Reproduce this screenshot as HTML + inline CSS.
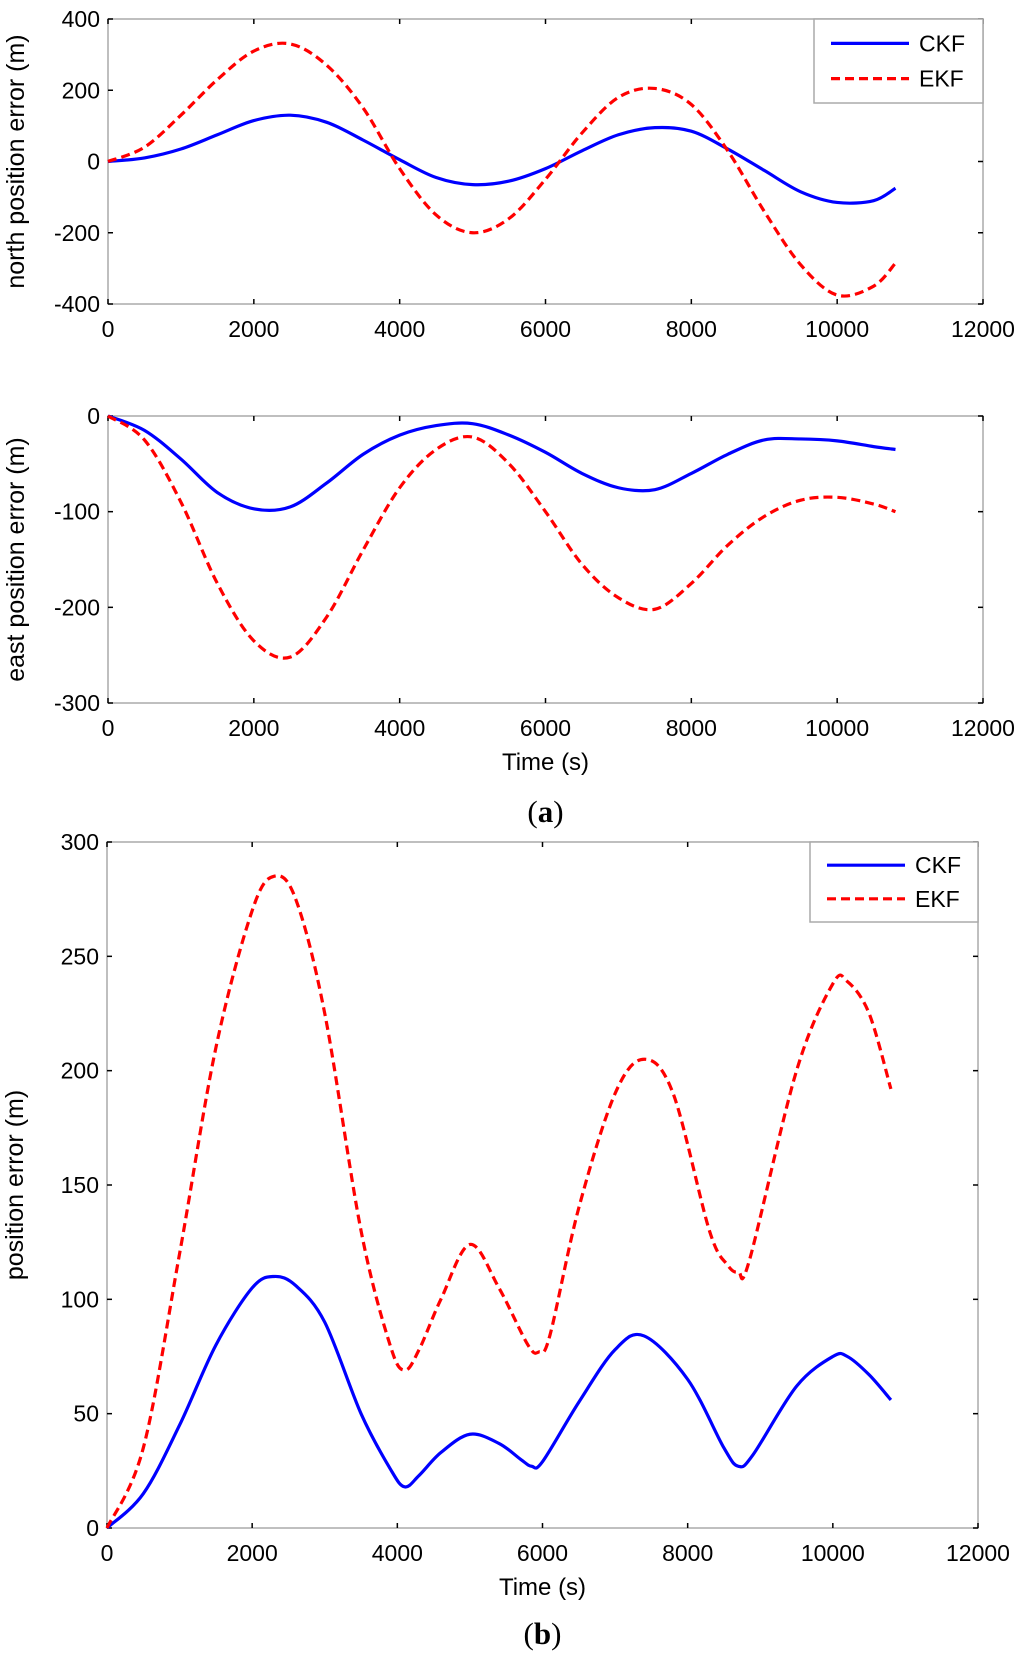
<!DOCTYPE html>
<html><head><meta charset="utf-8"><style>
body{margin:0;background:#fff}
svg{display:block}
text{font-family:"Liberation Sans",sans-serif;fill:#000}
</style></head><body>
<svg id="c" width="1024" height="1662" viewBox="0 0 1024 1662" xmlns="http://www.w3.org/2000/svg"></svg>
<script>
const xTicks=[0,2000,4000,6000,8000,10000,12000];
const tN=[0,500,1000,1500,2000,2500,3000,3500,4000,4500,5000,5500,6000,6500,7000,7500,8000,8500,9000,9500,10000,10500,10800];
const northCKF=[0,10,35,75,115,130,110,60,5,-45,-65,-55,-20,30,75,95,85,35,-25,-85,-115,-110,-75];
const northEKF=[0,40,130,230,310,330,270,150,-20,-150,-200,-160,-50,80,180,205,160,30,-140,-290,-375,-350,-285];
const eastCKF=[0,-15,-45,-80,-97,-95,-70,-40,-20,-10,-8,-20,-38,-60,-75,-77,-60,-40,-25,-24,-26,-32,-35];
const eastEKF=[0,-25,-90,-175,-235,-252,-210,-140,-75,-35,-22,-50,-100,-155,-190,-202,-175,-135,-105,-88,-85,-92,-100];
const tB=[0,500,1000,1500,2000,2300,2600,3000,3500,3900,4100,4300,4600,5000,5400,5700,5850,6000,6500,7000,7400,8000,8500,8700,8900,9500,10000,10200,10500,10800];
const posCKF=[0,15,45,80,105,110,106,90,50,26,18,23,33,41,37,30,27,29,55,78,84,65,35,27,32,62,75,75,67,56];
const tE=[0,500,1000,1500,2000,2300,2600,3000,3500,3900,4100,4300,4600,5000,5400,5800,5950,6100,6500,7000,7400,7800,8300,8550,8700,8850,9500,10000,10200,10500,10800];
const posEKF=[0,35,120,210,270,285,275,225,130,80,69,78,100,124,105,80,77,84,140,190,205,190,130,115,112,117,200,238,239,225,192];
const yN=[-400,-200,0,200,400], yE=[-300,-200,-100,0], yB=[0,50,100,150,200,250,300];
const NS="http://www.w3.org/2000/svg", svg=document.getElementById('c');
function el(tag,a,p){const e=document.createElementNS(NS,tag);for(const k in a)e.setAttribute(k,a[k]);(p||svg).appendChild(e);return e;}
function path(xs,ys,sx,sy){const P=xs.map((x,i)=>[sx(x),sy(ys[i])]);let d='M'+P[0][0]+','+P[0][1];
 for(let i=0;i<P.length-1;i++){const p0=P[i-1]||P[i],p1=P[i],p2=P[i+1],p3=P[i+2]||p2;
 d+=` C${p1[0]+(p2[0]-p0[0])/6},${p1[1]+(p2[1]-p0[1])/6} ${p2[0]-(p3[0]-p1[0])/6},${p2[1]-(p3[1]-p1[1])/6} ${p2[0]},${p2[1]}`;}return d;}
function chart(name,L,R,T,B,ymin,ymax,yt,ylabel,series,legend,xlabY,sub){
 const g=el('g',{});
 const sx=v=>L+(v-0)/12000*(R-L), sy=v=>B-(v-ymin)/(ymax-ymin)*(B-T);
 const fr=el('rect',{x:L,y:T,width:R-L,height:B-T,fill:'none',stroke:'#aaa','stroke-width':1.5},g);
 
 xTicks.forEach(v=>{const x=sx(v);el('line',{x1:x,y1:B,x2:x,y2:B-5,stroke:'#000','stroke-width':1.5},g);el('line',{x1:x,y1:T,x2:x,y2:T+5,stroke:'#000','stroke-width':1.5},g);
  const t=el('text',{x:x,y:B+33,'text-anchor':'middle','font-size':23},g);t.textContent=v;
  });
 yt.forEach(v=>{const y=sy(v);el('line',{x1:L,y1:y,x2:L+5,y2:y,stroke:'#000','stroke-width':1.5},g);el('line',{x1:R,y1:y,x2:R-5,y2:y,stroke:'#000','stroke-width':1.5},g);
  const t=el('text',{x:L-8,y:y+8,'text-anchor':'end','font-size':23},g);t.textContent=v;
  });
 const yl=el('text',{transform:`translate(${L-84},${(T+B)/2}) rotate(-90)`,'text-anchor':'middle','font-size':25},g);yl.textContent=ylabel;
 
 series.forEach(s=>{const p=el('path',{d:path(s.x,s.y,sx,sy),fill:'none',stroke:s.c,'stroke-width':3.2,'stroke-dasharray':s.dash?'9,5':'none'},g);
  });
 if(legend){const lg=el('g',{},g);
  el('rect',{x:legend[0],y:T,width:R-legend[0],height:legend[1],fill:'#fff',stroke:'#aaa','stroke-width':1.5},lg);
  const h=legend[1];
  [['CKF','#0000ff',false],['EKF','#ff0000',true]].forEach((e,i)=>{const y=T+h*(i===0?0.29:0.71);
   const ln=el('line',{x1:legend[0]+17,x2:legend[0]+95,y1:y,y2:y,stroke:e[1],'stroke-width':3.2,'stroke-dasharray':e[2]?'9,5':'none'},lg);
   
   const t=el('text',{x:legend[0]+105,y:y+8,'font-size':23},lg);t.textContent=e[0];
   });}
 if(xlabY){const t=el('text',{x:(L+R)/2,y:xlabY,'text-anchor':'middle','font-size':24},g);t.textContent='Time (s)';
  }
 if(sub){const t=el('text',{x:(L+R)/2,y:sub[1],'text-anchor':'middle','font-size':31},g);
  t.innerHTML='(<tspan font-weight="bold">'+sub[0]+'</tspan>)';t.style.fontFamily='"Liberation Serif",serif';
  }
}
chart('north-error-chart',108,983,19,304,-400,400,yN,'north position error (m)',
 [{x:tN,y:northCKF,c:'#0000ff',n:'line-ckf'},{x:tN,y:northEKF,c:'#ff0000',dash:1,n:'line-ekf'}],[814,84],null,null);
chart('east-error-chart',108,983,416,703,-300,0,yE,'east position error (m)',
 [{x:tN,y:eastCKF,c:'#0000ff',n:'line-ckf'},{x:tN,y:eastEKF,c:'#ff0000',dash:1,n:'line-ekf'}],null,770,['a',822]);
chart('position-error-chart',107,978,842,1528,0,300,yB,'position error (m)',
 [{x:tB,y:posCKF,c:'#0000ff',n:'line-ckf'},{x:tE,y:posEKF,c:'#ff0000',dash:1,n:'line-ekf'}],[810,80],1595,['b',1644]);
</script>
</body></html>
